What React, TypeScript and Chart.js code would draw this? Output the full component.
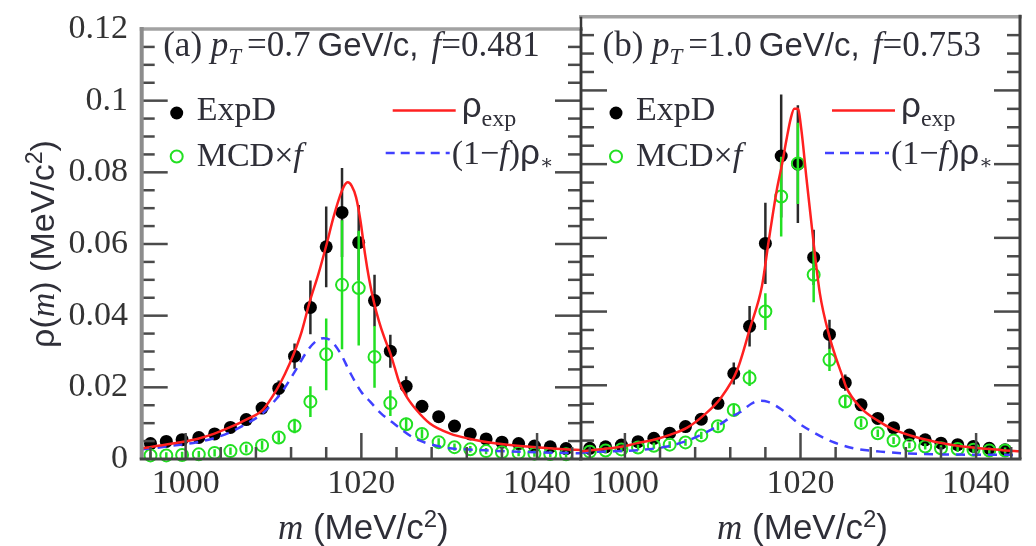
import React, { useEffect, useRef } from "react";
import { Chart, registerables } from "chart.js";

Chart.register(...registerables);

// ---------------- data ----------------
const massBins = [
  996.0, 997.8, 999.6, 1001.5, 1003.3, 1005.1, 1006.9, 1008.7, 1010.6, 1012.4, 1014.2, 1016.0, 1017.8, 1019.7,
  1021.5, 1023.3, 1025.1, 1026.9, 1028.8, 1030.6, 1032.4, 1034.2, 1036.0, 1037.9, 1039.7, 1041.5, 1043.3,
];

// panel (a) pT = 0.7 GeV/c
const expDA = [
  0.0043, 0.0049, 0.0054, 0.006, 0.007, 0.0088, 0.011, 0.0142, 0.0197, 0.0287, 0.0423, 0.0592, 0.0688, 0.0604,
  0.0442, 0.0301, 0.0203, 0.0147, 0.0118, 0.0092, 0.007, 0.0056, 0.0047, 0.0043, 0.0036, 0.0034, 0.0029,
];
const expDErrA = [
  0.0008, 0.0008, 0.0008, 0.0009, 0.001, 0.0011, 0.0013, 0.0016, 0.0022, 0.0035, 0.0075, 0.0113, 0.0124, 0.0105,
  0.0072, 0.0046, 0.0028, 0.0018, 0.0014, 0.0011, 0.0009, 0.0008, 0.0007, 0.0007, 0.0006, 0.0006, 0.0006,
];
const mcdA = [
  0.001, 0.001, 0.0011, 0.0013, 0.0017, 0.0022, 0.0029, 0.0038, 0.006, 0.0092, 0.016, 0.0292, 0.0486, 0.0477,
  0.0285, 0.0156, 0.0097, 0.007, 0.0047, 0.0033, 0.0027, 0.0022, 0.0019, 0.0017, 0.0015, 0.0014, 0.0013,
];
const mcdErrA = [
  0.0009, 0.0009, 0.0009, 0.0009, 0.001, 0.001, 0.0011, 0.0012, 0.0014, 0.002, 0.0043, 0.01, 0.018, 0.016,
  0.0086, 0.0036, 0.0018, 0.0013, 0.0011, 0.001, 0.0009, 0.0009, 0.0009, 0.0009, 0.0009, 0.0009, 0.0009,
];
const rhoExpMassA = [
  995.0, 995.9, 998.5, 1001.3, 1003.2, 1005.0, 1006.9, 1008.8, 1010.4, 1011.3, 1012.3, 1013.2, 1014.1, 1015.1,
  1016.0, 1016.8, 1017.4, 1018.0, 1018.45, 1018.9, 1019.4, 1019.9, 1020.4, 1020.9, 1021.4, 1022.0, 1022.6,
  1023.3, 1023.8, 1024.3, 1025.2, 1026.3, 1027.8, 1030.1, 1032.4, 1035.4, 1039.2, 1043.0, 1045.0,
];
const rhoExpA = [
  0.003, 0.0033, 0.0043, 0.0056, 0.007, 0.0088, 0.011, 0.0138, 0.0195, 0.0237, 0.0293, 0.0355, 0.0437, 0.0515,
  0.0595, 0.0672, 0.0722, 0.076, 0.0772, 0.0762, 0.073, 0.0665, 0.0575, 0.05, 0.0441, 0.0385, 0.034,
  0.0295, 0.0255, 0.0215, 0.0172, 0.0136, 0.0099, 0.0071, 0.0056, 0.0043, 0.0034, 0.0027, 0.0025,
];
const rhoStarMassA = [
  995.0, 995.9, 998.5, 1001.3, 1003.2, 1005.0, 1006.9, 1008.8, 1010.4, 1011.1, 1012.6, 1013.8, 1014.9, 1015.7,
  1016.4, 1017.6, 1018.7, 1020.0, 1021.0, 1022.2, 1023.6, 1025.9, 1029.3, 1033.5, 1038.0, 1045.0,
];
const rhoStarA = [
  0.0027, 0.0029, 0.0037, 0.0047, 0.0058, 0.0074, 0.0098, 0.0128, 0.017, 0.0192, 0.0251, 0.03, 0.033, 0.0337,
  0.0333, 0.0296, 0.0242, 0.0187, 0.016, 0.0128, 0.0101, 0.006, 0.0033, 0.0025, 0.002, 0.0016,
];

// panel (b) pT = 1.0 GeV/c
const expDB = [
  0.0029, 0.0033, 0.0038, 0.0047, 0.0056, 0.007, 0.0088, 0.0108, 0.0151, 0.0232, 0.036, 0.0585, 0.0822, 0.08,
  0.0547, 0.0338, 0.0207, 0.0147, 0.011, 0.0085, 0.0065, 0.0052, 0.0043, 0.0039, 0.0034, 0.0029, 0.0025,
];
const expDErrB = [
  0.0006, 0.0006, 0.0006, 0.0007, 0.0007, 0.0008, 0.0009, 0.0011, 0.0016, 0.003, 0.0055, 0.011, 0.0167, 0.016,
  0.0075, 0.004, 0.0022, 0.0014, 0.0011, 0.0009, 0.0008, 0.0007, 0.0006, 0.0006, 0.0006, 0.0006, 0.0006,
];
const mcdB = [
  0.002, 0.0023, 0.0026, 0.0031, 0.0036, 0.0039, 0.0045, 0.0064, 0.0089, 0.0133, 0.022, 0.04, 0.0712, 0.0802,
  0.05, 0.0269, 0.0156, 0.0098, 0.007, 0.005, 0.0037, 0.0034, 0.0029, 0.0027, 0.0025, 0.0023, 0.0023,
];
const mcdErrB = [
  0.0008, 0.0008, 0.0008, 0.0008, 0.0008, 0.0009, 0.0009, 0.001, 0.0012, 0.0015, 0.0022, 0.005, 0.0108, 0.011,
  0.0075, 0.003, 0.0016, 0.0012, 0.001, 0.0009, 0.0008, 0.0008, 0.0008, 0.0008, 0.0008, 0.0008, 0.0008,
];
const rhoExpMassB = [
  995.0, 996.2, 999.6, 1001.4, 1003.3, 1005.2, 1007.1, 1009.0, 1010.9, 1012.8, 1014.3, 1015.6, 1016.4, 1017.3,
  1017.9, 1018.4, 1018.9, 1019.3, 1019.7, 1020.1, 1020.7, 1021.45, 1022.2, 1023.3, 1024.1, 1024.8, 1025.2,
  1026.9, 1028.8, 1030.5, 1033.5, 1037.3, 1043.0, 1045.0,
];
const rhoExpB = [
  0.0021, 0.0024, 0.0033, 0.0043, 0.0052, 0.0066, 0.0085, 0.0119, 0.0165, 0.0242, 0.0359, 0.0468, 0.0595, 0.073,
  0.08, 0.0866, 0.0925, 0.095, 0.095, 0.0893, 0.0757, 0.0595, 0.045, 0.0332, 0.027, 0.0223, 0.0195,
  0.0138, 0.0104, 0.0081, 0.0057, 0.0038, 0.0024, 0.0021,
];
const rhoStarMassB = [
  995.0, 996.3, 1001.5, 1004.6, 1006.8, 1008.7, 1010.6, 1012.1, 1013.2, 1014.4, 1015.3, 1016.3, 1017.8, 1019.6,
  1021.5, 1023.6, 1026.1, 1029.1, 1033.2, 1038.0, 1045.0,
];
const rhoStarB = [
  0.0017, 0.0019, 0.0024, 0.0033, 0.0047, 0.0066, 0.009, 0.0114, 0.0128, 0.015, 0.0158, 0.0155, 0.0135, 0.01,
  0.0072, 0.0047, 0.0029, 0.002, 0.0014, 0.0012, 0.0011,
];

const xTickValues = [1000, 1020, 1040];
const yTickValues = [0, 0.02, 0.04, 0.06, 0.08, 0.1, 0.12];
const xMinorStep = 4;
const yMinorStep = 0.005;

// ---------------- styling ----------------
const SERIF = '"Liberation Serif", "DejaVu Serif", serif';
const SANS = '"Liberation Sans", "DejaVu Sans", sans-serif';
const TEXT = "#2f2f38";
const RED = "#ff2020";
const BLUE = "#4040ff";
const GREEN = "#22e022";

const W = 1036;
const H = 546;
const AREA_LEFT = 141.7;
const DIVIDER = 581;
const AREA_RIGHT = 1020;
const AREA_TOP = 16.7;
const AREA_BOTTOM = 459;

type Seg = { t: string; f: string; dy?: number; dx?: number };

function drawRich(ctx: CanvasRenderingContext2D, x: number, y: number, segs: Seg[], align: "left" | "center" = "left") {
  let total = 0;
  for (const s of segs) {
    ctx.font = s.f;
    total += ctx.measureText(s.t).width + (s.dx || 0);
  }
  let cx = align === "center" ? x - total / 2 : x;
  ctx.textAlign = "left";
  ctx.textBaseline = "alphabetic";
  for (const s of segs) {
    ctx.font = s.f;
    cx += s.dx || 0;
    ctx.fillText(s.t, cx, y + (s.dy || 0));
    cx += ctx.measureText(s.t).width;
  }
}

interface Panel {
  tag: string;
  pt: string;
  f: string;
  expD: number[];
  expDErr: number[];
  mcd: number[];
  mcdErr: number[];
  rhoExpM: number[];
  rhoExp: number[];
  rhoStarM: number[];
  rhoStar: number[];
}

const panelA: Panel = {
  tag: "a", pt: "0.7", f: "0.481",
  expD: expDA, expDErr: expDErrA, mcd: mcdA, mcdErr: mcdErrA,
  rhoExpM: rhoExpMassA, rhoExp: rhoExpA, rhoStarM: rhoStarMassA, rhoStar: rhoStarA,
};
const panelB: Panel = {
  tag: "b", pt: "1.0", f: "0.753",
  expD: expDB, expDErr: expDErrB, mcd: mcdB, mcdErr: mcdErrB,
  rhoExpM: rhoExpMassB, rhoExp: rhoExpB, rhoStarM: rhoStarMassB, rhoStar: rhoStarB,
};

function buildChart(canvas: HTMLCanvasElement, p: Panel, isLeft: boolean) {
  const errorBars = {
    id: "errorBars",
    beforeDatasetDraw(chart: any, args: any) {
      const errs = args.index === 3 ? p.expDErr : args.index === 2 ? p.mcdErr : null;
      if (!errs) return;
      const ds = chart.data.datasets[args.index];
      const xs = chart.scales.x;
      const ys = chart.scales.y;
      const a = chart.chartArea;
      const ctx: CanvasRenderingContext2D = chart.ctx;
      ctx.save();
      ctx.beginPath();
      ctx.rect(a.left, a.top, a.right - a.left, a.bottom - a.top + 10);
      ctx.clip();
      ctx.strokeStyle = args.index === 3 ? "#2a2a2a" : GREEN;
      ctx.lineWidth = 2.5;
      ds.data.forEach((pt: any, i: number) => {
        const px = xs.getPixelForValue(pt.x);
        const y1 = ys.getPixelForValue(pt.y + errs[i]);
        const y2 = ys.getPixelForValue(pt.y - errs[i]);
        ctx.beginPath();
        ctx.moveTo(px, y1);
        ctx.lineTo(px, y2);
        ctx.stroke();
      });
      ctx.restore();
    },
  };

  const frame = {
    id: "frame",
    afterDatasetsDraw(chart: any) {
      const ctx: CanvasRenderingContext2D = chart.ctx;
      const a = chart.chartArea;
      const xs = chart.scales.x;
      const ys = chart.scales.y;
      ctx.save();
      ctx.setLineDash([]);
      const line = (x1: number, y1: number, x2: number, y2: number) => {
        ctx.beginPath();
        ctx.moveTo(x1, y1);
        ctx.lineTo(x2, y2);
        ctx.stroke();
      };
      // ticks
      ctx.strokeStyle = "#4a4a4a";
      ctx.lineWidth = 2.5;
      const nY = Math.round(0.12 / yMinorStep);
      for (let k = 1; k < nY; k++) {
        const py = ys.getPixelForValue(k * yMinorStep);
        const len = k % 4 === 0 ? 26 : 13;
        line(a.left, py, a.left + len, py);
        line(a.right, py, a.right - len, py);
      }
      for (let m = 996; m <= 1044; m += xMinorStep) {
        const px = xs.getPixelForValue(m);
        const len = (m - 1000) % 20 === 0 ? 26 : 12;
        line(px, a.bottom, px, a.bottom - len);
      }
      // frame
      ctx.strokeStyle = "#a2a2a2";
      ctx.lineWidth = 3.5;
      line(a.left - 2, a.top, a.right + 2, a.top);
      if (isLeft) {
        ctx.strokeStyle = "#8c8c8c";
        ctx.lineWidth = 4;
        line(a.left, a.top - 2, a.left, a.bottom);
        ctx.strokeStyle = "#383838";
        ctx.lineWidth = 2.5;
        line(a.right, a.top, a.right, a.bottom);
      } else {
        ctx.strokeStyle = "#383838";
        ctx.lineWidth = 2.5;
        line(a.left, a.top, a.left, a.bottom);
        ctx.strokeStyle = "#404040";
        ctx.lineWidth = 3;
        line(a.right, a.top - 2, a.right, a.bottom);
      }
      ctx.strokeStyle = "#444";
      ctx.lineWidth = 3;
      line(a.left - 2, a.bottom, a.right + 1.5, a.bottom);
      ctx.restore();
    },
  };

  const texts = {
    id: "texts",
    afterDraw(chart: any) {
      const ctx: CanvasRenderingContext2D = chart.ctx;
      const a = chart.chartArea;
      const xs = chart.scales.x;
      const L = a.left;
      ctx.save();
      ctx.fillStyle = TEXT;
      // panel label
      drawRich(ctx, L + 21.5, 56, [
        { t: `(${p.tag}) `, f: `35px ${SERIF}` },
        { t: "p", f: `italic 35px ${SERIF}` },
        { t: "T", f: `italic 23px ${SERIF}`, dy: 8 },
        { t: `=${p.pt}`, f: `35px ${SERIF}`, dx: 6 },
        { t: "GeV/c,", f: `33px ${SANS}`, dx: 7 },
        { t: "f", f: `italic 35px ${SERIF}`, dx: 13 },
        { t: `=${p.f}`, f: `35px ${SERIF}` },
      ]);
      // legend: ExpD
      ctx.fillStyle = "#000";
      ctx.beginPath();
      ctx.arc(L + 35, 113, 6.5, 0, Math.PI * 2);
      ctx.fill();
      ctx.fillStyle = TEXT;
      drawRich(ctx, L + 55, 120, [{ t: "ExpD", f: `34px ${SERIF}` }]);
      // legend: MCD x f
      ctx.strokeStyle = GREEN;
      ctx.lineWidth = 2;
      ctx.beginPath();
      ctx.arc(L + 35, 156.5, 6, 0, Math.PI * 2);
      ctx.stroke();
      drawRich(ctx, L + 55, 166, [
        { t: "MCD×", f: `34px ${SERIF}` },
        { t: "f", f: `italic 34px ${SERIF}` },
      ]);
      // legend: rho_exp
      ctx.strokeStyle = RED;
      ctx.lineWidth = 2.5;
      ctx.beginPath();
      ctx.moveTo(L + 251, 110.5);
      ctx.lineTo(L + 314, 110.5);
      ctx.stroke();
      drawRich(ctx, L + 320, 117, [
        { t: "ρ", f: `35px ${SANS}` },
        { t: "exp", f: `24px ${SERIF}`, dy: 9 },
      ]);
      // legend: (1-f) rho_*
      ctx.strokeStyle = BLUE;
      ctx.setLineDash([9, 6]);
      ctx.beginPath();
      ctx.moveTo(L + 244, 153);
      ctx.lineTo(L + 308, 153);
      ctx.stroke();
      ctx.setLineDash([]);
      drawRich(ctx, L + 310, 164, [
        { t: "(1−", f: `34px ${SERIF}` },
        { t: "f", f: `italic 34px ${SERIF}` },
        { t: ")", f: `34px ${SERIF}` },
        { t: "ρ", f: `35px ${SANS}` },
        { t: "∗", f: `20px ${SERIF}`, dy: 5 },
      ]);
      // x axis title
      const cx = xs.getPixelForValue(1020) + 2;
      drawRich(ctx, cx, 539, [
        { t: "m", f: `italic 35px ${SERIF}` },
        { t: " (MeV/c", f: `35px ${SANS}` },
        { t: "2", f: `24px ${SANS}`, dy: -12 },
        { t: ")", f: `35px ${SANS}` },
      ], "center");
      // y axis title
      if (isLeft) {
        ctx.save();
        ctx.translate(53.5, (a.top + a.bottom) / 2);
        ctx.rotate(-Math.PI / 2);
        drawRich(ctx, 0, 0, [
          { t: "ρ(", f: `34px ${SANS}` },
          { t: "m", f: `italic 34px ${SERIF}` },
          { t: ") (MeV/c", f: `34px ${SANS}` },
          { t: "2", f: `23px ${SANS}`, dy: -12 },
          { t: ")", f: `34px ${SANS}` },
        ], "center");
        ctx.restore();
      }
      ctx.restore();
    },
  };

  const toPts = (xsArr: number[], ysArr: number[]) => xsArr.map((x, i) => ({ x, y: ysArr[i] }));

  return new Chart(canvas, {
    type: "scatter",
    data: {
      datasets: [
        {
          label: "ρexp",
          data: toPts(p.rhoExpM, p.rhoExp),
          showLine: true,
          borderColor: RED,
          borderWidth: 2.5,
          pointRadius: 0,
          cubicInterpolationMode: "monotone",
          order: 0,
        } as any,
        {
          label: "(1−f)ρ*",
          data: toPts(p.rhoStarM, p.rhoStar),
          showLine: true,
          borderColor: BLUE,
          borderWidth: 2.5,
          borderDash: [9, 7],
          pointRadius: 0,
          cubicInterpolationMode: "monotone",
          order: 1,
        } as any,
        {
          label: "MCD×f",
          data: toPts(massBins, p.mcd),
          pointRadius: 6,
          pointBorderWidth: 2,
          pointBackgroundColor: "rgba(0,0,0,0)",
          pointBorderColor: GREEN,
          order: 2,
          clip: { left: 0, top: 0, right: 0, bottom: 10 },
        } as any,
        {
          label: "ExpD",
          data: toPts(massBins, p.expD),
          pointRadius: 6.5,
          pointBorderWidth: 0,
          pointBackgroundColor: "#000",
          pointBorderColor: "#000",
          order: 3,
          clip: { left: 0, top: 0, right: 0, bottom: 10 },
        } as any,
      ],
    },
    options: {
      responsive: false,
      animation: false,
      events: [],
      layout: {
        padding: isLeft
          ? { left: 0, right: W - DIVIDER, top: AREA_TOP, bottom: 0 }
          : { left: DIVIDER, right: W - AREA_RIGHT, top: AREA_TOP, bottom: 0 },
      },
      plugins: { legend: { display: false }, tooltip: { enabled: false } },
      scales: {
        x: {
          type: "linear",
          min: 995,
          max: 1045,
          grid: { display: false, drawTicks: false },
          border: { display: false },
          afterBuildTicks: (s: any) => {
            s.ticks = xTickValues.map((v) => ({ value: v }));
          },
          afterFit: (s: any) => {
            s.height = H - AREA_BOTTOM;
          },
          ticks: {
            autoSkip: false,
            maxRotation: 0,
            minRotation: 0,
            padding: 5,
            color: "#333",
            font: { family: SERIF, size: 34 },
            callback: (v: any) => String(v),
          },
        },
        y: {
          type: "linear",
          min: 0,
          max: 0.12,
          display: isLeft,
          grid: { display: false, drawTicks: false },
          border: { display: false },
          afterBuildTicks: (s: any) => {
            s.ticks = yTickValues.map((v) => ({ value: v }));
          },
          afterFit: (s: any) => {
            s.width = isLeft ? AREA_LEFT : 0;
          },
          ticks: {
            autoSkip: false,
            padding: 13.7,
            color: "#333",
            font: { family: SERIF, size: 34, lineHeight: 0.9 },
            callback: (v: any) => (v === 0 ? "0" : String(Number(Number(v).toFixed(2)))),
          },
        },
      },
    } as any,
    plugins: [errorBars, frame, texts],
  });
}

export default function App() {
  const leftRef = useRef<HTMLCanvasElement>(null);
  const rightRef = useRef<HTMLCanvasElement>(null);

  useEffect(() => {
    const c1 = buildChart(leftRef.current as HTMLCanvasElement, panelA, true);
    const c2 = buildChart(rightRef.current as HTMLCanvasElement, panelB, false);
    return () => {
      c1.destroy();
      c2.destroy();
    };
  }, []);

  return (
    <div style={{ position: "fixed", left: 0, top: 0, width: W, height: H, background: "#fff", overflow: "hidden" }}>
      <canvas ref={leftRef} width={W} height={H} style={{ position: "absolute", left: 0, top: 0 }} />
      <canvas ref={rightRef} width={W} height={H} style={{ position: "absolute", left: 0, top: 0 }} />
    </div>
  );
}
